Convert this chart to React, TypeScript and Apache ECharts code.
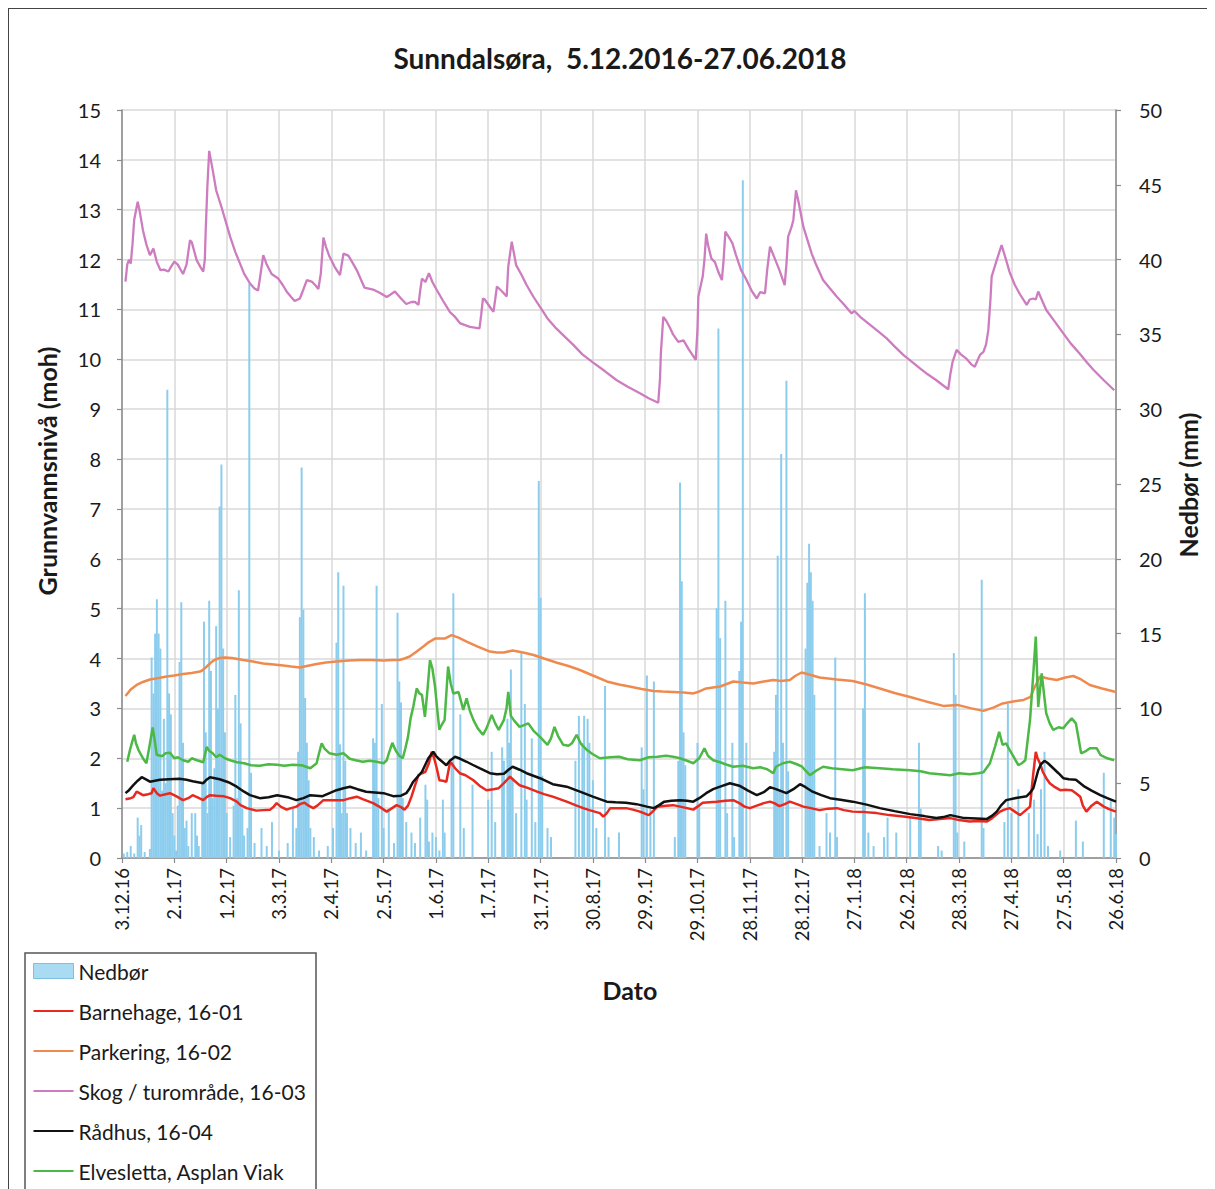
import React, { useEffect, useRef } from "react";
import * as echarts from "echarts";

// x values are days after 3.12.2016
const BASE_UTC = Date.UTC(2016, 11, 3);
const X_MIN = 0;
const X_MAX = 570;
const X_STEP = 30;

const seriesNames = [
  "Nedbør",
  "Barnehage, 16-01",
  "Parkering, 16-02",
  "Skog / turområde, 16-03",
  "Rådhus, 16-04",
  "Elvesletta, Asplan Viak",
];

// Nedbør (mm): [day, mm]
const precip: number[][] = [
  [1,0.3],[3,0.4],[5,0.8],[7,0.3],[9,2.7],[10,1.5],[11,2.2],[13,0.4],[16,0.6],[17,13.4],[18,11.0],[19,15.0],[20,17.3],[21,15.0],[22,14.0],[23,4.5],[24,9.3],[25,5.0],[26,31.3],[27,11.0],[28,9.6],[29,3.0],[30,1.5],[31,0.5],[32,3.5],[33,13.1],[34,17.1],[35,7.7],[36,2.0],[37,2.5],[38,0.8],[40,3.0],[42,3.0],[43,1.5],[44,0.8],[46,5.0],[47,15.8],[48,8.4],[49,3.0],[50,17.2],[51,12.5],[52,4.0],[53,6.0],[54,15.5],[55,10.0],[56,23.5],[57,26.3],[58,14.0],[59,8.4],[60,3.0],[62,1.4],[64,3.5],[65,10.9],[66,4.0],[67,17.9],[68,9.0],[69,3.3],[70,1.5],[72,2.0],[73,38.4],[74,5.7],[76,1.0],[80,2.0],[83,0.8],[86,2.4],[90,0.5],[95,1.0],[98,3.3],[100,2.0],[101,7.1],[102,16.1],[103,26.1],[104,16.6],[105,10.7],[106,7.7],[107,5.2],[108,2.0],[110,1.4],[113,0.5],[118,0.8],[121,2.0],[123,14.4],[124,19.1],[125,7.6],[126,3.0],[127,18.2],[128,6.5],[129,3.0],[131,2.0],[134,1.0],[137,1.7],[140,0.5],[144,8.0],[145,7.7],[146,18.2],[147,4.0],[149,10.3],[150,2.0],[153,3.3],[156,1.0],[158,16.4],[159,11.8],[160,10.4],[161,4.0],[163,2.4],[166,1.7],[168,1.0],[171,2.7],[174,4.9],[175,3.9],[176,1.1],[178,1.7],[180,1.4],[182,0.5],
  [184,3.9],[185,1.7],[189,6.5],[190,17.7],[194,9.6],[196,2.0],[201,4.9],[210,3.9],[212,7.1],[214,2.4],[218,7.4],[219,6.5],[221,9.3],[222,7.7],[223,12.6],[224,5.2],[226,3.0],[229,13.7],[231,10.3],[232,3.9],[235,8.0],[237,2.4],[239,25.2],[240,17.4],[241,5.5],[244,2.0],[246,1.4],[260,6.5],[262,9.5],[264,7.7],[265,9.5],[267,9.3],[268,7.7],[270,5.2],[272,2.0],[277,11.5],[279,1.4],[285,1.7],[298,7.4],[299,4.6],[301,12.2],[303,3.3],[305,11.8],[317,1.4],[319,6.5],[320,25.1],[321,18.5],[322,8.4],[323,6.2],[330,7.7],[331,3.6],[341,16.7],[342,35.4],[343,14.7],[346,17.2],[347,3.0],[350,7.7],[351,1.4],[354,12.5],[355,15.8],[356,45.3],[358,7.7],
  [374,7.1],[375,10.9],[376,20.2],[377,4.6],[378,27.0],[379,7.7],[381,31.9],[382,5.8],[392,14.0],[393,18.4],[394,21.0],[395,19.1],[396,17.2],[397,10.9],[400,0.8],[404,3.0],[406,1.7],[409,13.4],[410,1.4],[425,10.0],[426,17.7],[428,1.7],[431,0.8],[437,1.4],[439,2.7],[444,1.7],[452,2.7],[457,7.7],[458,3.3],[468,0.8],[470,0.5],[477,13.7],[478,10.9],[479,1.7],[483,1.1],[493,18.6],[494,2.0],[506,2.4],[508,10.3],[510,3.0],[514,4.6],[520,3.0],[523,3.9],[525,1.6],[527,4.6],[529,7.1],[531,0.8],[538,0.5],[547,2.5],[551,1.1],[563,5.7],[567,3.8],[569,2.7],[570,1.6],
];

// Barnehage, 16-01
const barnehage: number[][] = [
  [2,1.18],[5,1.2],[6.5,1.22],[8.4,1.33],[10,1.3],[12,1.26],[15,1.28],[17,1.30],[18,1.40],[20,1.3],[21.8,1.25],[25,1.28],[27.5,1.30],[31,1.24],[35,1.16],[38,1.2],[40.5,1.26],[43,1.22],[46.6,1.16],[48.5,1.22],[50.5,1.26],[54,1.25],[58,1.24],[62,1.2],[65.8,1.13],[68,1.06],[71.5,1.0],[77,0.95],[81,0.96],[85,0.97],[87,1.03],[88.7,1.10],[91,1.03],[94.4,0.97],[97,1.0],[100,1.03],[102,1.08],[104.7,1.11],[107,1.05],[109.7,1.0],[112,1.05],[115.5,1.16],[120,1.16],[127,1.16],[131,1.2],[134.6,1.23],[138,1.18],[144,1.10],[148,1.02],[151.8,0.93],[154,0.98],[157.5,1.06],[160,1.02],[162,0.97],[164,1.05],[166,1.23],[168,1.45],[170,1.66],[172,1.7],[174,1.73],[176,1.9],[177.6,2.13],[179,2.0],[180.5,1.80],[182,1.56],[184,1.55],[186,1.53],[188,1.90],[189,1.90],[191,1.8],[193.7,1.70],[197,1.66],[201.5,1.56],[205,1.45],[209,1.36],[213,1.38],[216,1.40],[219,1.5],[222.5,1.63],[225,1.55],[228,1.46],[233,1.4],[238,1.33],[242,1.28],[247,1.23],[251,1.18],[255,1.13],[260,1.06],[264.5,1.0],[268,0.96],[272,0.92],[274,0.90],[276,0.83],[278,0.9],[280,1.0],[285,1.0],[289,1.0],[293,0.97],[297,0.93],[302,0.86],[304,0.92],[307,1.03],[312,1.05],[316,1.06],[320,1.03],[324,1.0],[327.6,0.97],[330,1.03],[333,1.11],[337,1.12],[341,1.13],[346,1.15],[350.5,1.16],[354,1.1],[357,1.03],[360,1.0],[364,1.05],[368,1.1],[371.6,1.13],[374,1.1],[377,1.04],[380,1.08],[383,1.13],[387,1.08],[390.7,1.03],[395,1.0],[400,0.96],[405,0.99],[410,1.0],[414,0.96],[419,0.93],[426,0.92],[432.7,0.90],[440,0.86],[448,0.83],[455,0.80],[463,0.76],[469,0.78],[475,0.80],[480,0.76],[486,0.73],[491,0.74],[495.8,0.73],[499,0.8],[503.5,0.93],[506,0.97],[509,1.0],[512,0.93],[515,0.86],[518,0.95],[520.7,1.03],[521.7,1.4],[522.6,1.70],[524,2.13],[525,2.0],[526.4,1.90],[528,1.73],[530,1.6],[532,1.50],[535,1.42],[538,1.36],[541,1.37],[544.6,1.36],[547,1.3],[549.5,1.23],[551,1.05],[553,0.93],[556,1.05],[559,1.13],[563,1.03],[566,0.98],[570,0.93],
];

// Parkering, 16-02
const parkering: number[][] = [
  [2,3.25],[5,3.38],[8.4,3.47],[12,3.53],[16,3.58],[21,3.61],[25.6,3.64],[30,3.66],[35,3.69],[40,3.71],[44.7,3.74],[46,3.76],[48.6,3.84],[51,3.92],[53,3.97],[56,4.01],[59,4.02],[63,4.01],[69.6,3.97],[75,3.94],[81,3.90],[87,3.88],[92.5,3.86],[97,3.84],[102,3.82],[106,3.85],[111.6,3.89],[117,3.92],[123,3.94],[130,3.96],[136.5,3.97],[143,3.97],[150,3.96],[155,3.97],[159,3.97],[162,4.0],[165,4.04],[169,4.14],[172.8,4.24],[176,4.33],[179.5,4.40],[185,4.40],[189,4.47],[193,4.42],[197.6,4.34],[204,4.24],[211,4.14],[215,4.12],[219,4.12],[224,4.16],[230,4.12],[236,4.07],[242,4.0],[249,3.92],[256,3.85],[262.6,3.77],[270,3.66],[278,3.54],[285,3.48],[291,3.44],[298,3.39],[304.7,3.35],[310,3.34],[316,3.33],[322,3.32],[327.6,3.30],[331,3.34],[335,3.40],[343,3.44],[350.5,3.54],[356,3.52],[362,3.50],[368,3.54],[373.5,3.57],[378,3.55],[383,3.57],[386,3.65],[389.7,3.72],[395,3.67],[400,3.62],[410,3.58],[419,3.55],[427,3.48],[434.6,3.40],[443,3.31],[451.9,3.23],[461,3.14],[471,3.05],[479,3.07],[487,3.0],[494,2.95],[500,3.02],[505,3.10],[511,3.14],[517,3.17],[521,3.23],[523,3.4],[526.4,3.64],[531,3.6],[536,3.57],[541,3.62],[545.5,3.65],[550,3.58],[555,3.47],[562,3.4],[570,3.33],
];

// Skog / turområde, 16-03
const skog: number[][] = [
  [2,11.56],[3,11.9],[4,12.0],[5,11.92],[6,12.3],[7,12.8],[9,13.16],[10,13.0],[12,12.59],[14,12.3],[16,12.09],[18,12.22],[20,11.95],[22,11.79],[24,11.8],[26.6,11.76],[28,11.85],[30,11.96],[32,11.9],[35,11.71],[37,11.9],[39,12.39],[40,12.35],[42.8,11.99],[45,11.85],[46.6,11.76],[47.5,12.0],[48,12.59],[49,13.5],[50,14.18],[52,13.8],[54,13.39],[57,13.06],[60,12.7],[62,12.46],[65,12.15],[67.7,11.92],[70,11.72],[73.4,11.52],[76,11.42],[78,11.38],[79,11.6],[81,12.09],[83,11.9],[85.8,11.71],[89.6,11.62],[92,11.5],[94.4,11.36],[97,11.25],[99,11.17],[102,11.22],[104,11.4],[106,11.59],[108.8,11.56],[111,11.48],[112.6,11.41],[114,11.72],[115.5,12.44],[117,12.25],[119,12.06],[122,11.85],[125,11.69],[127,12.12],[129.8,12.08],[132,11.95],[134.6,11.79],[137,11.6],[139,11.44],[144,11.40],[148,11.33],[151.8,11.25],[154,11.3],[156.5,11.36],[160,11.22],[163,11.11],[166,11.15],[168,11.15],[170,11.09],[171,11.38],[172,11.62],[174,11.55],[176,11.73],[178,11.55],[180.5,11.39],[184,11.18],[188,10.95],[191,10.85],[194,10.72],[199.5,10.65],[205,10.62],[206,10.9],[207,11.22],[208,11.2],[211,11.05],[213,10.95],[214,11.2],[215,11.46],[218,11.36],[220.6,11.26],[221.5,11.86],[223.5,12.36],[226,11.89],[229,11.7],[232,11.49],[236,11.25],[239.7,11.05],[244,10.82],[249,10.62],[254,10.45],[258.8,10.29],[264,10.1],[270,9.94],[277,9.76],[283.7,9.58],[290,9.45],[297,9.32],[302,9.22],[307.5,9.13],[308.5,9.6],[309,10.12],[310.4,10.85],[312,10.78],[314,10.65],[316,10.5],[319,10.35],[322,10.38],[325,10.2],[329,9.99],[330,10.6],[330.5,11.26],[333,11.66],[334,12.0],[335,12.52],[336,12.3],[338,12.02],[340,11.95],[342,11.75],[344,11.59],[345,12.0],[346,12.56],[348,12.45],[350,12.33],[352,12.1],[355,11.79],[358,11.6],[361,11.38],[364,11.22],[366,11.35],[368.7,11.32],[370,11.8],[371.6,12.26],[374,12.05],[377,11.79],[380,11.49],[381,11.9],[382,12.46],[384,12.66],[385,12.8],[386.5,13.39],[388,13.15],[390.7,12.66],[393,12.4],[395.5,12.12],[398,11.9],[402,11.59],[406,11.42],[409.8,11.26],[414,11.1],[418.4,10.92],[420,10.97],[424,10.83],[429,10.69],[434,10.55],[438.5,10.42],[443,10.26],[448,10.09],[453,9.95],[457.6,9.82],[462,9.7],[467,9.58],[470,9.5],[473.8,9.40],[475,9.7],[476.3,9.95],[478.6,10.19],[481,10.1],[484,10.02],[487,9.9],[489,9.85],[492,10.09],[494,10.15],[495.5,10.3],[496.8,10.59],[498,11.2],[498.7,11.66],[501.6,11.99],[504.4,12.29],[507,11.99],[509,11.75],[512,11.49],[515,11.3],[518.8,11.09],[520.5,11.2],[522.6,11.22],[524,11.2],[525.4,11.36],[528,11.15],[530,10.99],[535,10.75],[539.8,10.52],[544,10.32],[549,10.12],[553,9.95],[557,9.79],[563,9.58],[569,9.38],
];

// Rådhus, 16-04
const radhus: number[][] = [
  [2,1.30],[4,1.36],[6.5,1.46],[9,1.55],[11.3,1.62],[14,1.57],[16,1.53],[21.8,1.57],[27,1.58],[33,1.59],[37,1.57],[40.5,1.54],[46.6,1.50],[48.5,1.57],[50.5,1.62],[56,1.58],[61,1.52],[65.8,1.43],[70,1.33],[73.4,1.26],[79,1.20],[84,1.22],[89,1.26],[95,1.22],[100,1.16],[104,1.2],[108,1.26],[115,1.24],[119,1.3],[123,1.36],[127,1.40],[130.7,1.43],[135,1.38],[140,1.33],[150,1.30],[155.5,1.24],[160,1.25],[163,1.30],[165,1.4],[167,1.53],[172,1.73],[175.7,2.00],[178.5,2.13],[180,2.05],[182,1.98],[186,1.86],[188,1.95],[191,2.03],[194,1.99],[197.6,1.93],[201,1.87],[205,1.80],[211,1.70],[215,1.68],[219,1.69],[222,1.78],[224,1.83],[228,1.77],[232,1.70],[239.7,1.60],[247,1.48],[255,1.43],[262.6,1.33],[270,1.23],[278,1.13],[283,1.12],[289,1.11],[295,1.08],[301,1.03],[305,1.0],[308,1.06],[311,1.13],[315,1.15],[320,1.16],[324,1.15],[327.6,1.13],[331,1.2],[335,1.30],[339,1.38],[343,1.43],[348.6,1.50],[354,1.45],[359,1.35],[364,1.26],[368,1.32],[371.6,1.42],[375,1.38],[381,1.30],[385,1.38],[388.8,1.48],[392,1.42],[396,1.33],[401,1.26],[406,1.20],[412,1.17],[419,1.13],[427,1.07],[434.6,1.0],[443,0.94],[452,0.88],[460,0.84],[467,0.80],[471,0.82],[475,0.86],[479,0.83],[483,0.80],[490,0.79],[495.8,0.78],[499,0.85],[501.6,0.93],[504,1.05],[507,1.16],[512,1.2],[518.8,1.24],[520.5,1.3],[522.6,1.40],[524,1.58],[525.4,1.76],[527,1.88],[529,1.95],[531,1.9],[534,1.80],[537,1.70],[539.8,1.60],[543,1.58],[547,1.57],[552,1.43],[556,1.35],[561,1.26],[565,1.2],[570,1.13],
];

// Elvesletta, Asplan Viak
const elvesletta: number[][] = [
  [3,1.93],[4.6,2.17],[6,2.35],[7,2.47],[8,2.3],[9.4,2.17],[12,2.0],[14,1.9],[15.7,2.23],[17.6,2.62],[19,2.3],[19.9,2.07],[23,2.04],[25,2.1],[27.5,2.11],[30,2.0],[32,2.02],[35,1.96],[38,1.93],[40,2.0],[43,1.96],[46.6,1.92],[48.6,2.23],[50,2.15],[52,2.1],[54,2.02],[56,2.07],[59,2.0],[62,1.96],[66,1.92],[70,1.90],[74,1.86],[79,1.85],[84,1.88],[89,1.87],[93,1.85],[98,1.87],[103,1.86],[108,1.80],[111.6,1.9],[113,2.1],[114.5,2.30],[116,2.2],[119,2.10],[123,2.07],[127,2.10],[130.6,1.99],[134,1.96],[138,1.93],[142,1.95],[146,1.93],[150,1.9],[151.8,1.96],[153,2.1],[155,2.31],[157,2.15],[159,2.05],[161,2.0],[162.5,2.2],[164,2.43],[165.5,2.8],[167,3.03],[169,3.40],[170.5,3.3],[172,3.27],[173.7,2.83],[175,3.3],[176.6,3.97],[178,3.8],[179.5,3.44],[181,2.9],[182,2.57],[183,2.65],[185,2.77],[186,3.3],[187,3.84],[188.5,3.5],[190,3.30],[193,3.33],[195.7,2.97],[197.6,3.2],[199.5,2.95],[201.5,2.77],[204,2.6],[207,2.47],[209,2.6],[212,2.87],[214,2.7],[216,2.57],[219,2.77],[220.5,3.0],[221.5,3.33],[223,2.85],[225,2.75],[228,2.63],[233,2.70],[236,2.55],[239.7,2.43],[244,2.27],[246,2.4],[248,2.63],[250,2.45],[253,2.27],[256,2.25],[258,2.3],[260.7,2.47],[263,2.3],[266.5,2.17],[270,2.08],[274,2.0],[280,2.02],[285,2.03],[290,1.98],[297,1.96],[302,2.02],[307,2.03],[312,2.05],[316,2.03],[320,2.0],[324,1.95],[327.6,1.90],[331,2.0],[334,2.20],[336,2.05],[339,1.96],[343,1.92],[346,1.88],[350.5,1.83],[356,1.85],[362,1.80],[366,1.82],[370,1.78],[373.5,1.70],[375,1.83],[379,1.9],[383,1.93],[387,1.88],[390,1.83],[392,1.75],[394.5,1.66],[398,1.75],[402,1.83],[407,1.80],[413,1.78],[419,1.76],[426,1.82],[434.6,1.80],[442,1.78],[452,1.76],[458,1.74],[463,1.70],[469,1.68],[475,1.66],[480,1.70],[486,1.68],[491,1.70],[494,1.72],[497.7,1.90],[500.6,2.23],[503,2.53],[505,2.27],[507,2.3],[509,2.17],[511,2.05],[514,1.86],[516,1.9],[518,1.96],[520.7,2.77],[522.6,3.70],[524,4.44],[525.4,3.03],[526.5,3.4],[527.4,3.70],[529,3.2],[530,2.90],[532,2.7],[534,2.57],[537,2.62],[539.8,2.60],[542,2.7],[544.6,2.80],[547,2.70],[548.5,2.4],[550,2.10],[553,2.15],[555,2.20],[559,2.20],[561,2.07],[565,2.0],[569,1.96],
];

const FONT = "Lato, 'Noto Sans', sans-serif";
const TEXT = "#1a1a1a";
const AXIS = "#8a8a8a";
const GRID = "#d9d9d9";
const LINE_ICON = "path://M0,6 L42,6 L42,8.2 L0,8.2 Z";

function dayLabel(v: number): string {
  const d = new Date(BASE_UTC + v * 86400000);
  return `${d.getUTCDate()}.${d.getUTCMonth() + 1}.${String(d.getUTCFullYear()).slice(2)}`;
}

export default function App() {
  const ref = useRef<HTMLDivElement>(null);

  useEffect(() => {
    if (!ref.current) return;
    const chart = echarts.init(ref.current, undefined, { renderer: "svg" });
    const lineSeries = (name: string, data: number[][], color: string, width: number) => ({
      name,
      type: "line",
      data,
      yAxisIndex: 0,
      symbol: "none",
      showSymbol: false,
      smooth: false,
      lineStyle: { color, width },
      itemStyle: { color },
    });
    const nameStyle = {
      fontFamily: FONT,
      fontSize: 25,
      fontWeight: "bold",
      fill: TEXT,
      textAlign: "center",
      textVerticalAlign: "middle",
    };
    chart.setOption({
      animation: false,
      backgroundColor: "#ffffff",
      grid: { left: 113, top: 101, right: 95, bottom: 331, containLabel: false },
      graphic: [
        {
          type: "text",
          x: 611,
          y: 49,
          style: {
            text: "Sunndalsøra,  5.12.2016-27.06.2018",
            fontFamily: FONT,
            fontSize: 28,
            fontWeight: "bold",
            fill: TEXT,
            textAlign: "center",
            textVerticalAlign: "middle",
          },
        },
        { type: "text", x: 38, y: 462, rotation: Math.PI / 2, style: { ...nameStyle, text: "Grunnvannsnivå (moh)" } },
        { type: "text", x: 1179, y: 476, rotation: Math.PI / 2, style: { ...nameStyle, text: "Nedbør (mm)" } },
        { type: "text", x: 621, y: 981, style: { ...nameStyle, text: "Dato" } },
        {
          type: "rect",
          z: 0,
          shape: { x: 16, y: 944, width: 291, height: 260 },
          style: { fill: "#ffffff", stroke: "#555555", lineWidth: 1.5 },
        },
      ],
      legend: {
        orient: "vertical",
        left: 24,
        top: 951,
        padding: 0,
        itemGap: 18,
        itemWidth: 40,
        itemHeight: 15,
        z: 10,
        textStyle: { fontFamily: FONT, fontSize: 21, color: TEXT, lineHeight: 22 },
        data: [
          { name: seriesNames[0], icon: "rect", itemStyle: { color: "#a9dbf3", borderColor: "#7fbfe0", borderWidth: 1 } },
          { name: seriesNames[1], icon: LINE_ICON },
          { name: seriesNames[2], icon: LINE_ICON },
          { name: seriesNames[3], icon: LINE_ICON },
          { name: seriesNames[4], icon: LINE_ICON },
          { name: seriesNames[5], icon: LINE_ICON },
        ],
      },
      xAxis: {
        type: "value",
        min: X_MIN,
        max: X_MAX,
        interval: X_STEP,
        axisLine: { show: true, lineStyle: { color: AXIS, width: 1.5 } },
        axisTick: { show: true, length: 5, lineStyle: { color: AXIS, width: 1.2 } },
        axisLabel: {
          rotate: 90,
          margin: 10,
          fontFamily: FONT,
          fontSize: 18.5,
          color: TEXT,
          formatter: (v: number) => dayLabel(v),
        },
        splitLine: { show: true, lineStyle: { color: GRID, width: 1.5 } },
      },
      yAxis: [
        {
          type: "value",
          position: "left",
          min: 0,
          max: 15,
          interval: 1,
          axisLine: { show: true, lineStyle: { color: AXIS, width: 1.5 } },
          axisTick: { show: true, length: 5, lineStyle: { color: AXIS, width: 1.2 } },
          axisLabel: { margin: 21, fontFamily: FONT, fontSize: 20, color: TEXT },
          splitLine: { show: true, lineStyle: { color: GRID, width: 1.5 } },
        },
        {
          type: "value",
          position: "right",
          min: 0,
          max: 50,
          interval: 5,
          axisLine: { show: true, lineStyle: { color: AXIS, width: 1.5 } },
          axisTick: { show: true, length: 5, lineStyle: { color: AXIS, width: 1.2 } },
          axisLabel: { margin: 23, fontFamily: FONT, fontSize: 20, color: TEXT },
          splitLine: { show: false },
        },
      ],
      series: [
        {
          name: seriesNames[0],
          type: "bar",
          yAxisIndex: 1,
          data: precip,
          barWidth: 2,
          itemStyle: { color: "#8ccdee" },
        },
        lineSeries(seriesNames[1], barnehage, "#e8291f", 2.5),
        lineSeries(seriesNames[2], parkering, "#ef8a4f", 2.5),
        lineSeries(seriesNames[3], skog, "#cd7dbf", 2.3),
        lineSeries(seriesNames[4], radhus, "#111111", 2.5),
        lineSeries(seriesNames[5], elvesletta, "#4cb845", 2.5),
      ],
    });
    return () => chart.dispose();
  }, []);

  return (
    <div
      style={{
        width: 1204,
        height: 1181,
        boxSizing: "border-box",
        borderTop: "1px solid #444",
        borderLeft: "1px solid #444",
        borderRight: "1px solid #444",
        background: "#fff",
      }}
    >
      <div ref={ref} style={{ width: 1202, height: 1180 }} />
    </div>
  );
}
